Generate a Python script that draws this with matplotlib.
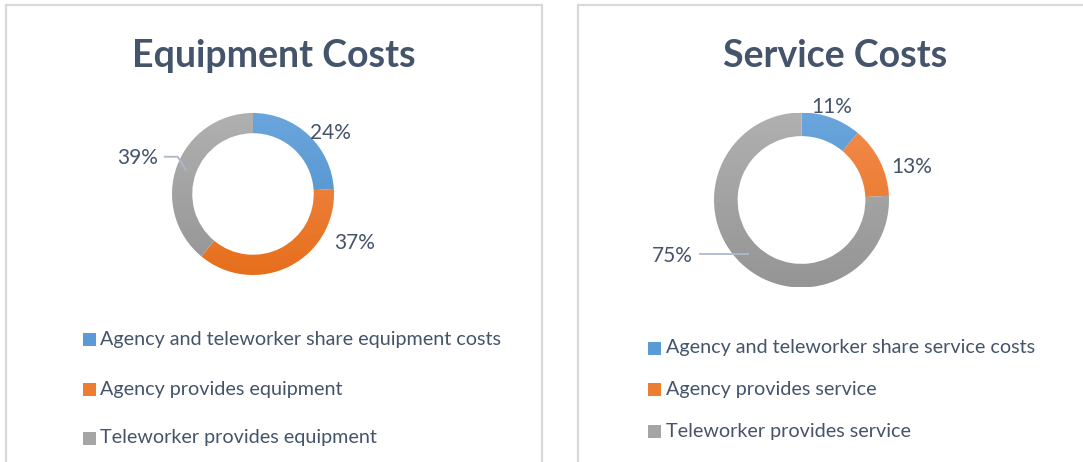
import numpy as np
import matplotlib
matplotlib.use("Agg")
import matplotlib.pyplot as plt
from matplotlib.patches import Rectangle
from matplotlib.colors import LinearSegmentedColormap

# ---------------- data ----------------
equip_labels = ["Agency and teleworker share equipment costs",
                "Agency provides equipment",
                "Teleworker provides equipment"]
equip_values = [24, 37, 39]

service_labels = ["Agency and teleworker share service costs",
                  "Agency provides service",
                  "Teleworker provides service"]
service_values = [11, 13, 75]

titles = ["Equipment Costs", "Service Costs"]

# ---------------- style ----------------
W, H = 1083, 462
DPI = 100
TEXT = "#44546A"
BORDER = "#D9D9D9"
LEADER = "#ADB9CA"
colors_top = ["#6AA6DC", "#F28C4E", "#B0B0B0"]
colors_bot = ["#4A8BCB", "#E66F1C", "#959595"]
colors_mid = ["#5B9BD5", "#ED7D31", "#A5A5A5"]
FONT = "Lato"

fig = plt.figure(figsize=(W / DPI, H / DPI), dpi=DPI)
fig.patch.set_facecolor("white")


def fx(x):
    return x / W


def fy(y):
    return 1 - y / H


# panel borders
fig.patches.append(Rectangle((fx(6), fy(470)), fx(536), fy(5) - fy(470),
                             transform=fig.transFigure, fill=False,
                             edgecolor=BORDER, linewidth=1.6))
fig.patches.append(Rectangle((fx(578), fy(470)), fx(540), fy(5) - fy(470),
                             transform=fig.transFigure, fill=False,
                             edgecolor=BORDER, linewidth=1.6))


def donut(cx, cy, R, values, width, label_pos, leader=None):
    L = 1.0
    ax = fig.add_axes([fx(cx - R), fy(cy + R), 2 * R / W, 2 * R / H])
    ax.set_xlim(-L, L)
    ax.set_ylim(-L, L)
    ax.set_aspect("equal")
    ax.axis("off")
    wedges, _ = ax.pie(values, startangle=90, counterclock=False,
                       colors=colors_mid, radius=1.0,
                       wedgeprops=dict(width=width, linewidth=0,
                                       edgecolor="none"))
    # vertical gradient fill for each wedge
    for i, w in enumerate(wedges):
        cmap = LinearSegmentedColormap.from_list(
            "g%d" % i, [colors_bot[i], colors_top[i]])
        grad = np.linspace(0, 1, 256).reshape(-1, 1)
        im = ax.imshow(grad, cmap=cmap, extent=(-1, 1, -1, 1),
                       origin="lower", aspect="auto", zorder=w.get_zorder())
        im.set_clip_path(w)
        w.set_facecolor("none")
    ax.set_xlim(-L, L)
    ax.set_ylim(-L, L)
    for v, (lx, ly) in zip(values, label_pos):
        ax.text(lx, ly, "%d%%" % v,
                ha="center", va="center", fontsize=15, color=TEXT,
                family=FONT, clip_on=False)
    if leader is not None:
        xs, ys = zip(*leader)
        ax.plot(xs, ys, color=LEADER, linewidth=1.3, clip_on=False,
                zorder=5)
    return ax


# left donut
donut(253, 194, 81, equip_values, 0.25,
      [(0.95, 0.75), (1.26, -0.60), (-1.43, 0.44)],
      leader=[(-1.09, 0.46), (-0.93, 0.46), (-0.83, 0.30)])
# right donut
donut(801.5, 200, 87.5, service_values, 0.27,
      [(0.34, 1.06), (1.26, 0.38), (-1.48, -0.64)],
      leader=[(-1.16, -0.62), (-0.61, -0.62)])

# titles
fig.text(fx(274), fy(56), titles[0], ha="center", va="center",
         fontsize=27, fontweight="bold", color=TEXT, family=FONT)
fig.text(fx(835), fy(56), titles[1], ha="center", va="center",
         fontsize=27, fontweight="bold", color=TEXT, family=FONT)


def legend(x0, ys, labels):
    for i, (y, lab) in enumerate(zip(ys, labels)):
        fig.patches.append(Rectangle((fx(x0), fy(y + 6.5)), 12.5 / W, 12.5 / H,
                                     transform=fig.transFigure,
                                     facecolor=colors_mid[i],
                                     edgecolor="none"))
        fig.text(fx(x0 + 17), fy(y), lab, ha="left", va="center",
                 fontsize=14.2, color=TEXT, family=FONT)


legend(83, [339, 389, 438], equip_labels)
legend(648.5, [348, 389, 431], service_labels)

fig.savefig("out.png", dpi=DPI, facecolor="white")
